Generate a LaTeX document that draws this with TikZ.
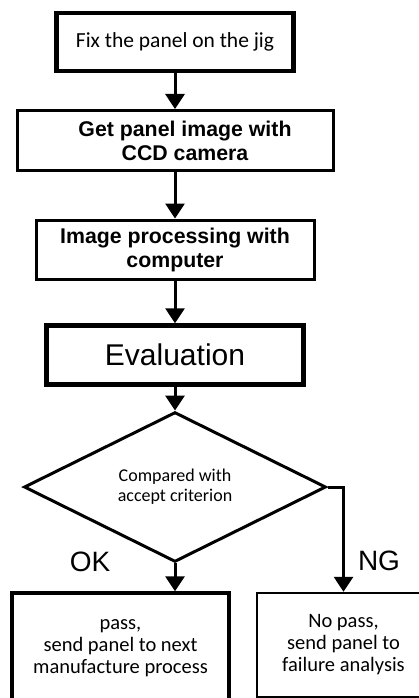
\documentclass[tikz,border=0pt]{standalone}
\usepackage{fontspec}
\setmainfont{Carlito}
\newfontfamily\arialf{Liberation Sans}
\usetikzlibrary{shapes.geometric,arrows.meta}
\begin{document}
\begin{tikzpicture}[x=1pt,y=-1pt,
  box/.style={draw,rectangle,inner sep=0pt,align=center},
  arr/.style={line width=3pt,-{Triangle[width=19pt,length=15pt]}},
  boldtxt/.style={font=\arialf\bfseries\fontsize{21.3}{24}\selectfont},
  calt/.style={font=\fontsize{20.5}{22}\selectfont},
  lbl/.style={font=\arialf\fontsize{28}{30}\selectfont,inner sep=0pt}
]
\useasboundingbox (0,0) rectangle (419,698);
\fill[white] (0,0) rectangle (419,698);
\node[box,line width=4.5pt,minimum width=237pt,minimum height=58pt,font=\fontsize{21.5}{24}\selectfont] (b1) at (175,42) {Fix the panel on the jig};
\node[box,line width=3pt,minimum width=316pt,minimum height=60pt,boldtxt] (b2) at (175,140.5) {\hspace*{20pt}Get panel image with\\\hspace*{20pt}CCD camera};
\node[box,line width=3pt,minimum width=278pt,minimum height=59pt,boldtxt] (b3) at (175,249.5) {Image processing with\\computer};
\node[box,line width=4.5pt,minimum width=257pt,minimum height=59pt,font=\arialf\fontsize{30}{32}\selectfont] (b4) at (175,355) {Evaluation};
\node[draw,diamond,line width=3pt,inner sep=0pt,minimum width=302pt,minimum height=129pt,align=center,font=\fontsize{18}{20}\selectfont] (dia) at (175,487) {Compared with\\accept criterion};
\node[box,line width=3.5pt,minimum width=217pt,minimum height=110pt,calt] (b5) at (120.5,648) {pass,\\send panel to next\\manufacture process};
\node[box,line width=2.5pt,minimum width=173pt,minimum height=104pt,calt] (b6) at (343.5,645) {No pass,\\send panel to\\failure analysis};
\node[lbl] (ok) at (90,562) {OK};
\node[lbl] (ng) at (379,561) {NG};
\draw[arr] (b1.south) -- (b2.north);
\draw[arr] (b2.south) -- (b3.north);
\draw[arr] (b3.south) -- (b4.north);
\draw[arr] (b4.south) -- (dia.north);
\draw[arr] (dia.south) -- (dia.south |- b5.north);
\draw[arr] (dia.east) -| (b6.north);
\end{tikzpicture}
\end{document}
